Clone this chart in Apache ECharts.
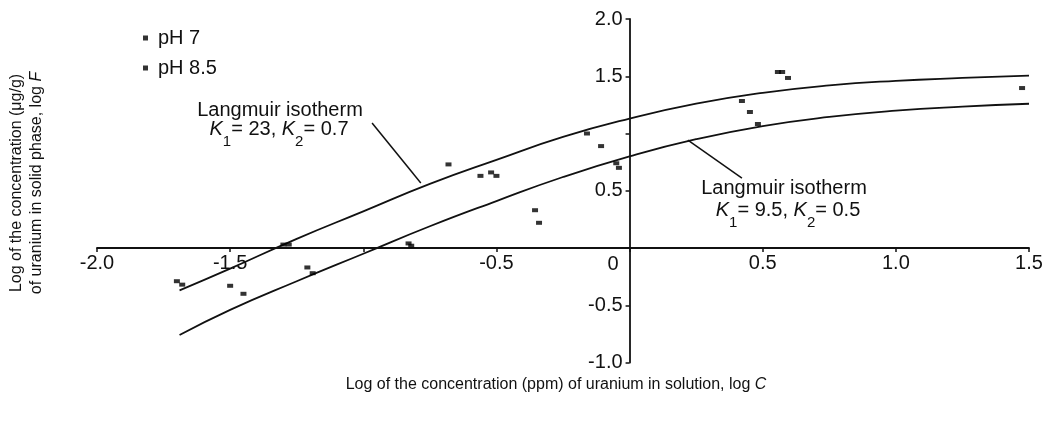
<!DOCTYPE html>
<html>
<head>
<meta charset="utf-8">
<script src="https://cdn.jsdelivr.net/npm/echarts@6/dist/echarts.min.js"></script>
<style>
  html, body { margin: 0; padding: 0; background: #fff; }
  #chart { width: 1046px; height: 421px; }
</style>
</head>
<body>
<div id="chart"></div>
<script>
// scattered measurements, log C / log F
var pH7 = [[-1.70,-0.29],[-1.50,-0.33],[-1.21,-0.17],[-1.30,0.03],[-0.83,0.04],
           [-0.68,0.73],[-0.56,0.63],[-0.50,0.63],[-0.355,0.33],[-0.16,1.00],
           [-0.05,0.74],[0.422,1.284],[0.482,1.083],[0.557,1.537],[1.474,1.397]];
var pH85 = [[-1.68,-0.32],[-1.45,-0.40],[-1.19,-0.22],[-1.28,0.03],[-0.82,0.02],
            [-0.52,0.66],[-0.34,0.22],[-0.107,0.89],[-0.04,0.70],[0.452,1.188],
            [0.573,1.537],[0.595,1.485]];

// the two isotherm curves
var curveX = [-1.69,-1.5,-1.25,-1.0,-0.75,-0.5,-0.25,0,0.25,0.5,0.75,1.0,1.25,1.5];
var upperY = [-0.37,-0.18,0.08,0.32,0.56,0.77,0.97,1.13,1.26,1.355,1.42,1.46,1.485,1.505];
var lowerY = [-0.76,-0.54,-0.29,-0.05,0.19,0.41,0.62,0.80,0.95,1.065,1.145,1.20,1.235,1.26];

// leader lines of the two labels
var leader1 = [[-0.967,1.092],[-0.784,0.568]];
var leader2 = [[0.219,0.943],[0.422,0.611]];

var FONT = "'Liberation Sans', Arial, sans-serif";

// grid box, axes are shifted onto the zero lines with offset
var G = {left: 97, right: 17, top: 19, bottom: 58.5};
var W = 1046, H = 421;
var xMin = -2, xMax = 1.5, yMin = -1, yMax = 2;
var xZeroOffset = (W - G.left - G.right) * (0 - xMin) / (xMax - xMin);
var yZeroOffset = (H - G.top - G.bottom) * (0 - yMin) / (yMax - yMin);

function pairs(xs, ys) {
    var out = [];
    for (var i = 0; i < xs.length; i++) out.push([xs[i], ys[i]]);
    return out;
}

var chart = echarts.init(document.getElementById('chart'), null, {renderer: 'canvas'});

var lineStyle = {color: '#111', width: 1.8};

function subText(str) {
    return {
        text: str,
        fontSize: 20, fontFamily: FONT, fill: '#111',
        rich: {
            i: {fontSize: 20, fontFamily: FONT, fontStyle: 'italic', color: '#111'},
            s: {fontSize: 15, fontFamily: FONT, color: '#111', padding: [26, 0, 0, 0]}
        },
        align: 'center', verticalAlign: 'middle',
        textAlign: 'center', textVerticalAlign: 'middle'
    };
}

var option = {
    animation: false,
    backgroundColor: '#fff',
    textStyle: {fontFamily: FONT},
    grid: {left: G.left, right: G.right, top: G.top, bottom: G.bottom, outerBoundsMode: 'none', containLabel: false},
    legend: {
        data: ['pH 7', 'pH 8.5'],
        orient: 'vertical',
        left: 138, top: 23,
        itemWidth: 5, itemHeight: 5,
        itemGap: 10,
        icon: 'rect',
        textStyle: {fontSize: 20, color: '#111', fontFamily: FONT, padding: [0, 0, 0, 5]}
    },
    xAxis: {
        type: 'value',
        min: xMin, max: xMax, interval: 0.5,
        position: 'bottom',
        offset: -yZeroOffset,
        axisLine: {onZero: false, lineStyle: {color: '#111', width: 1.8}},
        axisTick: {show: true, length: 4, lineStyle: {color: '#111', width: 1.5}},
        splitLine: {show: false},
        axisLabel: {
            margin: 5, fontSize: 20, color: '#111', fontFamily: FONT,
            showMinLabel: true, showMaxLabel: true,
            formatter: function (v) {
                if (Math.abs(v) < 1e-9 || Math.abs(v + 1) < 1e-9) return '';
                return v.toFixed(1);
            }
        }
    },
    yAxis: {
        type: 'value',
        min: yMin, max: yMax, interval: 0.5,
        position: 'left',
        offset: -xZeroOffset,
        axisLine: {show: true, onZero: false, lineStyle: {color: '#111', width: 1.8}},
        axisTick: {show: true, length: 4, lineStyle: {color: '#111', width: 1.5}},
        splitLine: {show: false},
        axisLabel: {
            margin: 7, fontSize: 20, color: '#111', fontFamily: FONT,
            showMinLabel: true, showMaxLabel: true,
            formatter: function (v) {
                if (Math.abs(v) < 1e-9 || Math.abs(v - 1) < 1e-9) return '';
                return v.toFixed(1);
            }
        }
    },
    graphic: [
        // shared origin label
        {type: 'text', x: 613, y: 264, silent: true,
         style: {text: '0', fontSize: 20, fontFamily: FONT, fill: '#111',
                 align: 'center', verticalAlign: 'middle', textAlign: 'center', textVerticalAlign: 'middle'}},
        // axis titles
        {type: 'text', x: 556, y: 385, silent: true,
         style: {text: 'Log of the concentration (ppm) of uranium in solution, log {i|C}',
                 fontSize: 16, fontFamily: FONT, fill: '#111',
                 rich: {i: {fontSize: 16, fontFamily: FONT, fontStyle: 'italic', color: '#111'}},
                 align: 'center', verticalAlign: 'middle', textAlign: 'center', textVerticalAlign: 'middle'}},
        {type: 'text', x: 27, y: 183, rotation: Math.PI / 2, silent: true,
         style: {text: 'Log of the concentration (\u03bcg/g)\nof uranium in solid phase, log {i|F}',
                 fontSize: 16, fontFamily: FONT, fill: '#111', lineHeight: 20,
                 rich: {i: {fontSize: 16, fontFamily: FONT, fontStyle: 'italic', color: '#111', lineHeight: 20}},
                 align: 'center', verticalAlign: 'middle', textAlign: 'center', textVerticalAlign: 'middle'}},
        // labels of the curves
        {type: 'text', x: 280, y: 110, silent: true, style: subText('Langmuir isotherm')},
        {type: 'text', x: 279, y: 129, silent: true, style: subText('{i|K}{s|1}= 23, {i|K}{s|2}= 0.7')},
        {type: 'text', x: 784, y: 188, silent: true, style: subText('Langmuir isotherm')},
        {type: 'text', x: 788, y: 210, silent: true, style: subText('{i|K}{s|1}= 9.5, {i|K}{s|2}= 0.5')}
    ],
    series: [
        {name: 'upper', type: 'line', data: pairs(curveX, upperY), smooth: true,
         showSymbol: false, silent: true, lineStyle: lineStyle, z: 3},
        {name: 'lower', type: 'line', data: pairs(curveX, lowerY), smooth: true,
         showSymbol: false, silent: true, lineStyle: lineStyle, z: 3},
        {name: 'lead1', type: 'line', data: leader1, showSymbol: false, silent: true,
         lineStyle: {color: '#111', width: 1.5}},
        {name: 'lead2', type: 'line', data: leader2, showSymbol: false, silent: true,
         lineStyle: {color: '#111', width: 1.5}},
        {name: 'pH 7', type: 'scatter', data: pH7, symbol: 'rect', symbolSize: [6, 4],
         itemStyle: {color: '#000'}, z: 4},
        {name: 'pH 8.5', type: 'scatter', data: pH85, symbol: 'rect', symbolSize: [6, 4],
         itemStyle: {color: '#000'}, z: 4}
    ]
};

chart.setOption(option);
</script>
</body>
</html>
